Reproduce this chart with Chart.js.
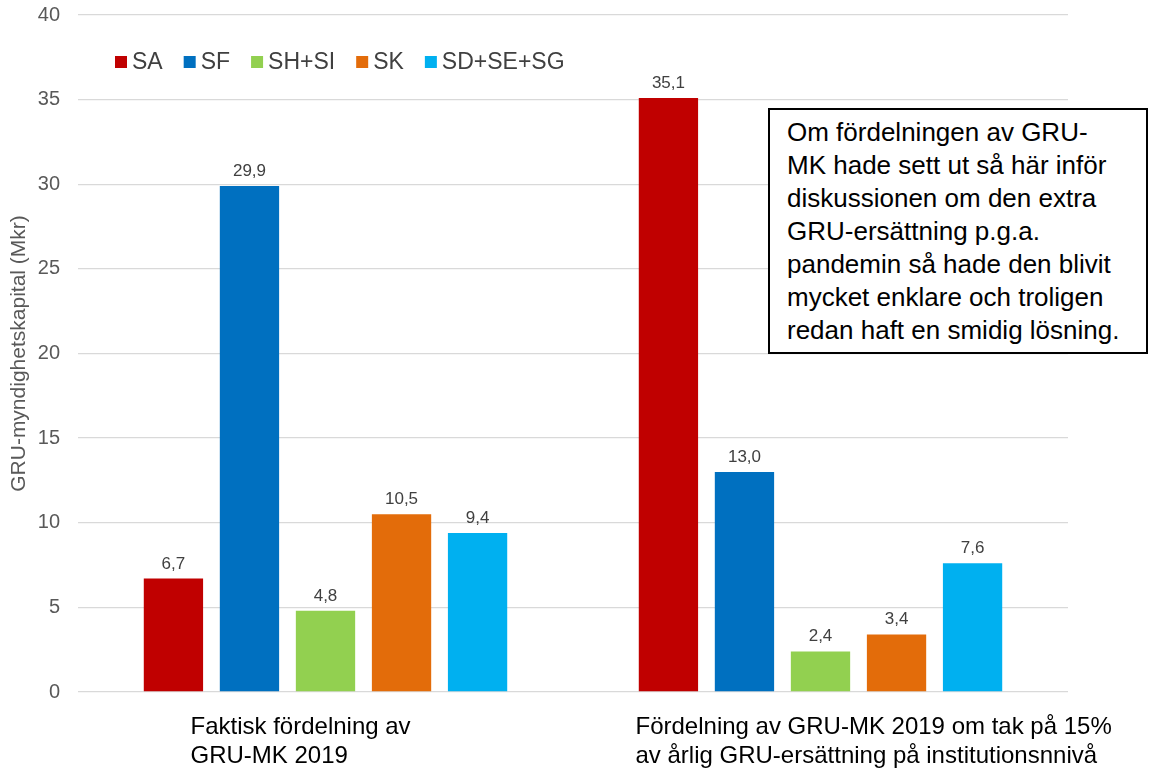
<!DOCTYPE html>
<html>
<head>
<meta charset="utf-8">
<script src="https://cdn.jsdelivr.net/npm/chart.js@4.4.0/dist/chart.umd.min.js"></script>
<style>
  body { margin: 0; background: #fff; }
  .wrap { position: relative; width: 1151px; height: 769px; }
  .note {
    position: absolute; left: 768px; top: 108px; width: 380px; height: 246px;
    border: 2px solid #000; background: #fff;
    font-family: "Liberation Sans", Arial, sans-serif; font-size: 26px; line-height: 33px;
    padding: 6px 0 0 17px; box-sizing: border-box; white-space: nowrap; color: #000;
  }
</style>
</head>
<body>
<div class="wrap">
  <canvas id="chart"></canvas>
  <div class="note">Om fördelningen av GRU-<br>MK hade sett ut så här inför<br>diskussionen om den extra<br>GRU-ersättning p.g.a.<br>pandemin så hade den blivit<br>mycket enklare och troligen<br>redan haft en smidig lösning.</div>
</div>
<script>
// kategorier
const categories = [
  ['Faktisk fördelning av', 'GRU-MK 2019'],
  ['Fördelning av GRU-MK 2019 om tak på 15%', 'av årlig GRU-ersättning på institutionsnnivå']
];
const seriesNames = ['SA', 'SF', 'SH+SI', 'SK', 'SD+SE+SG'];
const seriesColors = ['#C00000', '#0070C0', '#92D050', '#E36C0A', '#00B0F0'];
// värden per serie (faktisk, med tak)
const SA = [6.7, 35.1];
const SF = [29.9, 13.0];
const SH_SI = [4.8, 2.4];
const SK = [10.5, 3.4];
const SD_SE_SG = [9.4, 7.6];
const seriesValues = [SA, SF, SH_SI, SK, SD_SE_SG];
const yTicks = [0, 5, 10, 15, 20, 25, 30, 35, 40];

const FONT = '"Liberation Sans", Arial, sans-serif';

// värdeetiketter ovanför staplarna
const valueLabels = {
  id: 'valueLabels',
  afterDatasetsDraw(chart) {
    const ctx = chart.ctx;
    ctx.save();
    ctx.font = '17px ' + FONT;
    ctx.fillStyle = '#404040';
    ctx.textAlign = 'center';
    ctx.textBaseline = 'alphabetic';
    chart.data.datasets.forEach((ds, i) => {
      chart.getDatasetMeta(i).data.forEach((bar, j) => {
        ctx.fillText(ds.data[j].toFixed(1).replace('.', ','), bar.x, bar.y - 10);
      });
    });
    ctx.restore();
  }
};

// legend inne i diagrammet
const innerLegend = {
  id: 'innerLegend',
  afterDraw(chart) {
    const ctx = chart.ctx;
    ctx.save();
    ctx.font = '23px ' + FONT;
    ctx.textBaseline = 'middle';
    let x = 115;
    const y = 62;
    chart.data.datasets.forEach(ds => {
      ctx.fillStyle = ds.backgroundColor;
      ctx.fillRect(x, y - 6, 12, 12);
      ctx.fillStyle = '#404040';
      ctx.fillText(ds.label, x + 17, y + 1);
      x += 17 + ctx.measureText(ds.label).width + 21;
    });
    ctx.restore();
  }
};

// kategorietiketter (vänsterjusterade rader)
const catLabels = {
  id: 'catLabels',
  afterDraw(chart) {
    const ctx = chart.ctx;
    const xs = chart.scales.x;
    const shift = [-135, -185];
    ctx.save();
    ctx.font = '24px ' + FONT;
    ctx.fillStyle = '#000';
    ctx.textAlign = 'left';
    ctx.textBaseline = 'alphabetic';
    categories.forEach((lines, i) => {
      const x = xs.getPixelForTick(i) + shift[i];
      lines.forEach((t, k) => ctx.fillText(t, x, chart.chartArea.bottom + 42 + k * 29));
    });
    ctx.restore();
  }
};

new Chart(document.getElementById('chart'), {
  type: 'bar',
  data: {
    labels: categories.map(c => c.join(' ')),
    datasets: seriesNames.map((name, i) => ({
      label: name,
      data: seriesValues[i],
      backgroundColor: seriesColors[i],
      borderWidth: 0
    }))
  },
  options: {
    responsive: true,
    maintainAspectRatio: false,
    animation: false,
    categoryPercentage: 0.768,
    barPercentage: 0.78,
    layout: { padding: { top: 15, right: 83, bottom: 69, left: 3 } },
    scales: {
      x: {
        grid: { display: false },
        border: { display: false },
        ticks: { display: false }
      },
      y: {
        min: 0,
        max: 40,
        afterBuildTicks: axis => { axis.ticks = yTicks.map(v => ({ value: v })); },
        afterFit: axis => { axis.width = 75; axis.paddingTop = 0; axis.paddingBottom = 0; },
        grid: { color: '#D9D9D9', lineWidth: 1.3, drawTicks: false },
        border: { display: false },
        ticks: { color: '#595959', font: { family: FONT, size: 20 }, padding: 18 },
        title: { display: true, text: 'GRU-myndighetskapital (Mkr)', color: '#595959', font: { family: FONT, size: 21 }, padding: 4 }
      }
    },
    plugins: {
      legend: { display: false },
      tooltip: { enabled: false }
    }
  },
  plugins: [valueLabels, innerLegend, catLabels]
});
</script>
</body>
</html>
